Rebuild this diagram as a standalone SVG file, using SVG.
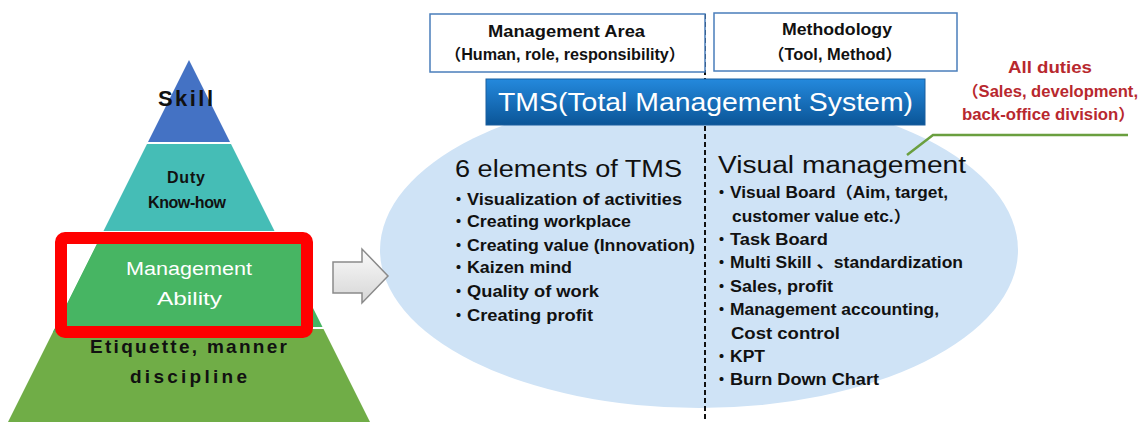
<svg xmlns="http://www.w3.org/2000/svg" width="1148" height="422" viewBox="0 0 1148 422">
<defs>
<linearGradient id="tmsGrad" x1="0" y1="0" x2="0" y2="1">
<stop offset="0" stop-color="#2489DD"/>
<stop offset="1" stop-color="#0B5597"/>
</linearGradient>
<linearGradient id="arrowGrad" x1="0" y1="0" x2="0" y2="1">
<stop offset="0" stop-color="#FAFAFA"/>
<stop offset="1" stop-color="#D6D6D6"/>
</linearGradient>
<style>
.pyr{font-family:"Liberation Sans","DejaVu Sans",sans-serif;font-weight:bold;fill:#111}
.pyrw{font-family:"Liberation Sans","DejaVu Sans",sans-serif;fill:#fff;font-size:18px}
.hdr{font-family:"Liberation Sans","Noto Sans CJK JP",sans-serif;font-size:16px;font-weight:bold;fill:#111}
.hbox{fill:#fff;stroke:#4A7EBB;stroke-width:1.5}
.ttl{font-family:"Liberation Sans","Noto Sans CJK JP",sans-serif;font-size:23px;fill:#111}
.item{font-family:"Liberation Sans","Noto Sans CJK JP",sans-serif;font-size:16px;font-weight:bold;fill:#111}
.red{font-family:"Liberation Sans","Noto Sans CJK JP",sans-serif;font-size:16px;font-weight:bold;fill:#B8282E}
.sep{stroke:#fff;stroke-width:2}
</style>
</defs>
<rect width="1148" height="422" fill="#fff"/>

<g id="pyramid">
<polygon points="189,60 230.5,143 147.5,143" fill="#4472C4"/>
<polygon points="147.5,143 230.5,143 275,232 103,232" fill="#45BDB6"/>
<polygon points="103,232 275,232 323,328 55,328" fill="#47B563"/>
<polygon points="55,328 323,328 370,422 8,422" fill="#70AD47"/>
<line class="sep" x1="147" y1="143" x2="231" y2="143"/>
<line class="sep" x1="102" y1="232" x2="276" y2="232"/>
<line class="sep" x1="54" y1="328" x2="324" y2="328"/>
</g>

<g id="node-skill">
<text class="pyr" x="158" y="106" font-size="22" textLength="55" lengthAdjust="spacing">Skill</text>
</g>
<g id="node-duty">
<text class="pyr" x="167" y="183" font-size="16" textLength="38" lengthAdjust="spacing">Duty</text>
<text class="pyr" x="148" y="208" font-size="16" textLength="78" lengthAdjust="spacing">Know-how</text>
</g>
<g id="node-management-ability">
<polygon points="103,232 301,232 301,332 53,332" fill="#47B563"/>
<rect x="61" y="238" width="246" height="94" rx="4" fill="none" stroke="#FF0000" stroke-width="12"/>
<text class="pyrw" x="126" y="275" textLength="126" lengthAdjust="spacingAndGlyphs">Management</text>
<text class="pyrw" x="157" y="305" textLength="65" lengthAdjust="spacingAndGlyphs">Ability</text>
</g>
<g id="node-etiquette">
<text class="pyr" x="90" y="353" font-size="19" textLength="197" lengthAdjust="spacing">Etiquette, manner</text>
<text class="pyr" x="130" y="383" font-size="19" textLength="117" lengthAdjust="spacing">discipline</text>
</g>

<g id="node-ellipse">
<ellipse cx="699" cy="250" rx="319" ry="158" fill="#CFE3F6"/>
</g>

<g id="connectors">
<polygon points="333,262 362,262 362,249 388,276 362,303 362,293 333,293" fill="url(#arrowGrad)" stroke="#8A8A8A" stroke-width="1.5" stroke-linejoin="miter"/>
<line x1="705" y1="14" x2="705" y2="422" stroke="#111" stroke-width="2" stroke-dasharray="5,3"/>
<polyline points="907,155 933,135 1128,135" fill="none" stroke="#6A9F3F" stroke-width="2.5"/>
</g>

<g id="node-management-area">
<rect class="hbox" x="430" y="14" width="275" height="58"/>
<text class="hdr" x="488" y="37" textLength="157" lengthAdjust="spacingAndGlyphs">Management Area</text>
<text class="hdr" x="445" y="60" textLength="240" lengthAdjust="spacingAndGlyphs">（Human, role, responsibility）</text>
</g>
<g id="node-methodology">
<rect class="hbox" x="714" y="13" width="243" height="58"/>
<text class="hdr" x="782" y="35" textLength="110" lengthAdjust="spacingAndGlyphs">Methodology</text>
<text class="hdr" x="768" y="60" textLength="134" lengthAdjust="spacingAndGlyphs">（Tool, Method）</text>
</g>

<g id="node-tms">
<rect x="486" y="79" width="439" height="46" fill="url(#tmsGrad)" stroke="#1B5E9E" stroke-width="1"/>
<text x="498" y="111" font-family="'Liberation Sans','Noto Sans',sans-serif" font-size="26" fill="#fff" textLength="415" lengthAdjust="spacingAndGlyphs">TMS(Total Management System)</text>
</g>

<g id="node-all-duties">
<text class="red" x="1008" y="73" textLength="84" lengthAdjust="spacingAndGlyphs">All duties</text>
<text class="red" x="962" y="97" textLength="176" lengthAdjust="spacingAndGlyphs">（Sales, development,</text>
<text class="red" x="962" y="120" textLength="173" lengthAdjust="spacingAndGlyphs">back-office division）</text>
</g>

<g id="node-six-elements">
<text class="ttl" x="455" y="177" textLength="227" lengthAdjust="spacingAndGlyphs">6 elements of TMS</text>
<text class="item" y="205"><tspan x="450.5">・</tspan><tspan x="467" textLength="215" lengthAdjust="spacingAndGlyphs">Visualization of activities</tspan></text>
<text class="item" y="227"><tspan x="450.5">・</tspan><tspan x="467" textLength="164" lengthAdjust="spacingAndGlyphs">Creating workplace</tspan></text>
<text class="item" y="251"><tspan x="450.5">・</tspan><tspan x="467" textLength="228" lengthAdjust="spacingAndGlyphs">Creating value (Innovation)</tspan></text>
<text class="item" y="273"><tspan x="450.5">・</tspan><tspan x="467" textLength="105" lengthAdjust="spacingAndGlyphs">Kaizen mind</tspan></text>
<text class="item" y="297"><tspan x="450.5">・</tspan><tspan x="467" textLength="132" lengthAdjust="spacingAndGlyphs">Quality of work</tspan></text>
<text class="item" y="321"><tspan x="450.5">・</tspan><tspan x="467" textLength="126" lengthAdjust="spacingAndGlyphs">Creating profit</tspan></text>
</g>

<g id="node-visual-management">
<text class="ttl" x="718" y="173" textLength="248" lengthAdjust="spacingAndGlyphs">Visual management</text>
<text class="item" y="198"><tspan x="713.5">・</tspan><tspan x="730" textLength="218" lengthAdjust="spacingAndGlyphs">Visual Board（Aim, target,</tspan></text>
<text class="item" x="732" y="222" textLength="179" lengthAdjust="spacingAndGlyphs">customer value etc.）</text>
<text class="item" y="245"><tspan x="713.5">・</tspan><tspan x="730" textLength="98" lengthAdjust="spacingAndGlyphs">Task Board</tspan></text>
<text class="item" y="268"><tspan x="713.5">・</tspan><tspan x="730" textLength="233" lengthAdjust="spacingAndGlyphs">Multi Skill 、standardization</tspan></text>
<text class="item" y="292"><tspan x="713.5">・</tspan><tspan x="730" textLength="103" lengthAdjust="spacingAndGlyphs">Sales, profit</tspan></text>
<text class="item" y="315"><tspan x="713.5">・</tspan><tspan x="730" textLength="209" lengthAdjust="spacingAndGlyphs">Management accounting,</tspan></text>
<text class="item" x="731" y="339" textLength="109" lengthAdjust="spacingAndGlyphs">Cost control</text>
<text class="item" y="362"><tspan x="713.5">・</tspan><tspan x="730" textLength="35" lengthAdjust="spacingAndGlyphs">KPT</tspan></text>
<text class="item" y="385"><tspan x="713.5">・</tspan><tspan x="730" textLength="149" lengthAdjust="spacingAndGlyphs">Burn Down Chart</tspan></text>
</g>
</svg>
